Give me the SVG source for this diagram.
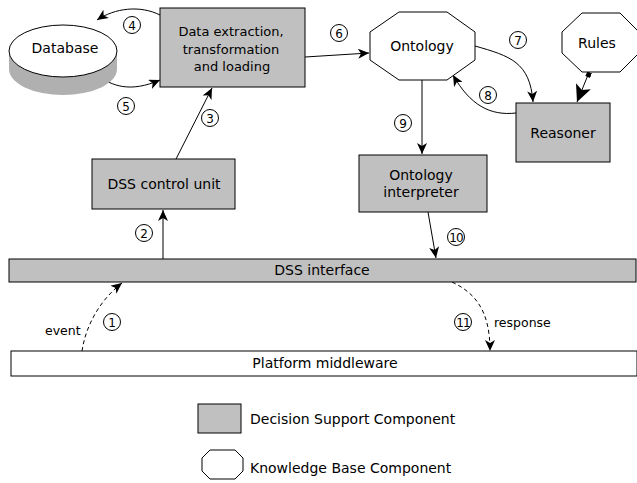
<svg xmlns="http://www.w3.org/2000/svg" width="637" height="483" viewBox="0 0 637 483">
<style>
  text { font-family: "DejaVu Sans", "Liberation Sans", sans-serif; font-size: 14px; fill: #000; }
  .dsc { fill: #c0c0c0; stroke: #000; stroke-width: 1; }
  .kb { fill: #fff; stroke: #000; stroke-width: 1; }
  .c { fill: #fff; stroke: #000; stroke-width: 1; }
  .num { font-size: 12px; text-anchor: middle; }
  .lbl { font-size: 12.5px; }
  .mid { text-anchor: middle; }
  .edge { fill: none; stroke: #000; stroke-width: 1; }
  .dash { stroke-dasharray: 4 3; }
</style>
<defs>
  <marker id="arr" markerUnits="userSpaceOnUse" markerWidth="12" markerHeight="10" refX="11" refY="5" orient="auto">
    <path d="M0,0 L11,5 L0,10 L3,5 Z" fill="#000"/>
  </marker>
  <marker id="big" markerUnits="userSpaceOnUse" markerWidth="18" markerHeight="16" refX="17" refY="8" orient="auto">
    <path d="M0,0 L17,8 L0,16 L4,8 Z" fill="#000"/>
  </marker>
  <marker id="sq" markerUnits="userSpaceOnUse" markerWidth="6" markerHeight="6" refX="3" refY="3" orient="auto">
    <rect x="0" y="0" width="5" height="5" fill="#000"/>
  </marker>
</defs>

<g id="connectors">
  <path class="edge" d="M163,259 L163,210" marker-end="url(#arr)"/>
  <path class="edge" d="M176,159 L212,88" marker-end="url(#arr)"/>
  <path class="edge" d="M160,15 C140,5 115,8 97,20" marker-end="url(#arr)"/>
  <path class="edge" d="M97,75 C112,86 130,93 160,80" marker-end="url(#arr)"/>
  <path class="edge" d="M305,57 L369,53" marker-end="url(#arr)"/>
  <path class="edge" d="M475,46 C510,56 530,62 533,102" marker-end="url(#arr)"/>
  <path class="edge" d="M516,113 C490,116 470,105 453,75" marker-end="url(#arr)"/>
  <path class="edge" d="M588,75 L577,102" marker-start="url(#sq)" marker-end="url(#big)"/>
  <path class="edge" d="M422,80 L422,154" marker-end="url(#arr)"/>
  <path class="edge" d="M428,212 L436,258" marker-end="url(#arr)"/>
  <path class="edge dash" d="M82,351 C86,325 100,300 122,283" marker-end="url(#arr)"/>
  <path class="edge dash" d="M452,282 C475,293 490,310 490,351" marker-end="url(#arr)"/>

  <circle class="c" cx="112" cy="322" r="8.5"/><text class="num" x="112" y="326.5">1</text>
  <circle class="c" cx="144" cy="233" r="8.5"/><text class="num" x="144" y="237.5">2</text>
  <circle class="c" cx="210" cy="118" r="8.5"/><text class="num" x="210" y="122.5">3</text>
  <circle class="c" cx="132" cy="25" r="8.5"/><text class="num" x="132" y="29.5">4</text>
  <circle class="c" cx="126" cy="106" r="8.5"/><text class="num" x="126" y="110.5">5</text>
  <circle class="c" cx="339" cy="33" r="8.5"/><text class="num" x="339" y="37.5">6</text>
  <circle class="c" cx="518" cy="40" r="8.5"/><text class="num" x="518" y="44.5">7</text>
  <circle class="c" cx="488" cy="95" r="8.5"/><text class="num" x="488" y="99.5">8</text>
  <circle class="c" cx="403" cy="123" r="8.5"/><text class="num" x="403" y="127.5">9</text>
  <circle class="c" cx="456" cy="237" r="8.5"/><text class="num" x="456" y="241.5" style="letter-spacing:-1px">10</text>
  <circle class="c" cx="463" cy="322" r="8.5"/><text class="num" x="463" y="326.5" style="letter-spacing:-1px">11</text>

  <text class="lbl" x="45" y="335">event</text>
  <text class="lbl" x="494" y="327">response</text>
</g>

<g id="database">
  <ellipse cx="63" cy="69" rx="54" ry="26" fill="#b0b0b0"/>
  <rect x="9" y="51" width="108" height="18" fill="#b0b0b0"/>
  <ellipse cx="63" cy="51" rx="54" ry="26" class="kb"/>
  <text class="mid" x="65" y="53">Database</text>
</g>

<g id="etl">
  <rect class="dsc" x="160" y="8" width="145" height="79"/>
  <text class="mid" x="231" y="36" style="font-size:13px">Data extraction,</text>
  <text class="mid" x="231" y="54" style="font-size:13px">transformation</text>
  <text class="mid" x="232" y="71" style="font-size:13px">and loading</text>
</g>

<g id="ontology">
  <polygon class="kb" points="399,12 447,12 475,32 475,60 447,80 399,80 370,60 370,32"/>
  <text class="mid" x="422" y="51">Ontology</text>
</g>

<g id="rules">
  <polygon class="kb" points="582,13 620,13 639,32 639,53 620,72 582,72 562,53 562,32"/>
  <text class="mid" x="597" y="48">Rules</text>
</g>

<g id="reasoner">
  <rect class="dsc" x="516" y="103" width="94" height="59"/>
  <text class="mid" x="563" y="138">Reasoner</text>
</g>

<g id="interpreter">
  <rect class="dsc" x="359" y="155" width="128" height="57"/>
  <text class="mid" x="421" y="180">Ontology</text>
  <text class="mid" x="421" y="197">interpreter</text>
</g>

<g id="control">
  <rect class="dsc" x="92" y="159" width="143" height="50"/>
  <text class="mid" x="164" y="189">DSS control unit</text>
</g>

<g id="interface">
  <rect class="dsc" x="9" y="259" width="627" height="23"/>
  <text class="mid" x="322" y="275">DSS interface</text>
</g>

<g id="middleware">
  <rect class="kb" x="11" y="351" width="626" height="25"/>
  <text class="mid" x="325" y="368">Platform middleware</text>
</g>

<g id="legend">
  <rect class="dsc" x="198" y="404" width="43" height="29"/>
  <text x="250" y="424">Decision Support Component</text>
  <polygon class="kb" points="210,450 235,450 243,458 243,471 235,479 210,479 202,471 202,458"/>
  <text x="250" y="473">Knowledge Base Component</text>
</g>
</svg>
